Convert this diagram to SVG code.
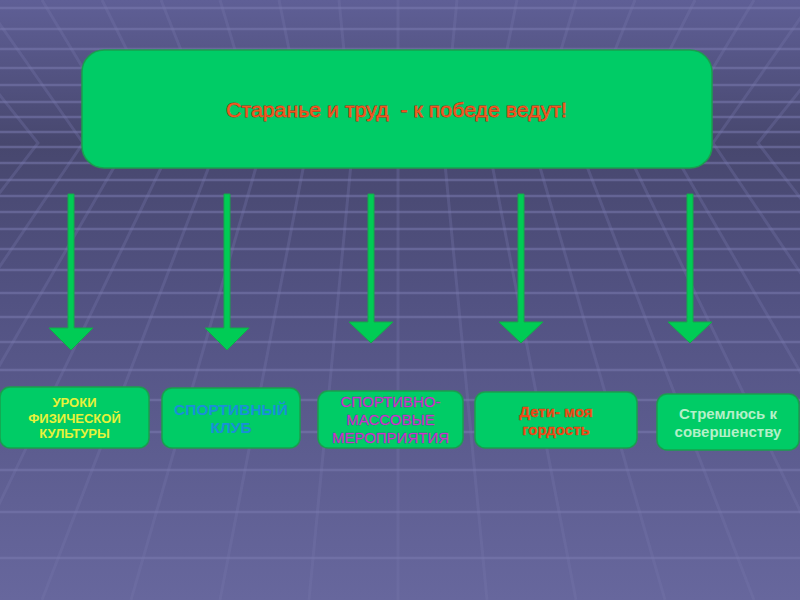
<svg xmlns="http://www.w3.org/2000/svg" width="800" height="600" viewBox="0 0 800 600">
<defs>
<linearGradient id="bg" x1="0" y1="0" x2="0" y2="600" gradientUnits="userSpaceOnUse">
<stop offset="0" stop-color="#5f5f96"/>
<stop offset="0.24" stop-color="#47476e"/>
<stop offset="0.5" stop-color="#525282"/>
<stop offset="1" stop-color="#67679d"/>
</linearGradient>
<style>
.vl{fill:none;stroke:#7676aa;stroke-width:3;stroke-opacity:0.32}
.hl{fill:none;stroke:#7a7aae;stroke-width:2.5;stroke-opacity:0.55}
.box{fill:#00cc66;stroke:#1a9e4e;stroke-width:1.5}
.arr{fill:#00cc55;stroke:#14a84a;stroke-width:1}
.t{font-family:"Liberation Sans",Arial,sans-serif;text-anchor:middle}
.b{font-weight:bold}
</style>
</defs>
<rect width="800" height="600" fill="url(#bg)"/>
<g id="grid">
<path class="vl" d="M-76,0 L38,143 L-314,600 M-17,0 L83,143 L-225,600 M42,0 L128,143 L-136,600 M102,0 L173,143 L-47,600 M161,0 L218,143 L42,600 M220,0 L263,143 L131,600 M279,0 L308,143 L220,600 M339,0 L353,143 L309,600 M398,0 L398,143 L398,600 M457,0 L443,143 L487,600 M517,0 L488,143 L576,600 M576,0 L533,143 L665,600 M635,0 L578,143 L754,600 M695,0 L623,143 L843,600 M754,0 L668,143 L932,600 M813,0 L713,143 L1021,600 M872,0 L758,143 L1110,600"/>
<path class="hl" d="M0,8 H800 M0,29 H800 M0,49 H800 M0,68 H800 M0,85 H800 M0,102 H800 M0,117 H800 M0,132 H800 M0,147 H800 M0,163 H800 M0,180 H800 M0,196 H800 M0,212 H800 M0,229 H800 M0,249 H800 M0,270 H800 M0,293 H800 M0,317 H800 M0,342 H800 M0,370 H800 M0,400 H800 M0,432 H800 M0,470 H800 M0,512 H800 M0,558 H800"/>
</g>
<g id="connectors">
<polygon class="arr" points="68,194 74,194 74,328 93,328 71,350 49,328 68,328"/>
<polygon class="arr" points="224,194 230,194 230,328 249,328 227,350 205,328 224,328"/>
<polygon class="arr" points="368,194 374,194 374,322 393,322 371,343 349,322 368,322"/>
<polygon class="arr" points="518,194 524,194 524,322 543,322 521,343 499,322 518,322"/>
<polygon class="arr" points="687,194 693,194 693,322 712,322 690,343 668,322 687,322"/>
</g>
<g id="top">
<rect class="box" x="82" y="50" width="630" height="118" rx="22"/>
<text class="t" xml:space="preserve" x="396.5" y="117" font-size="20" fill="#f25a1e" stroke="#b0281a" stroke-width="0.8" paint-order="stroke" textLength="341" lengthAdjust="spacingAndGlyphs">Старанье и труд  - к победе ведут!</text>
</g>
<g id="n1">
<rect class="box" x="0" y="387" width="149" height="61" rx="10"/>
<text class="t b" font-size="13" fill="#e8f23a"><tspan x="74.5" y="407">УРОКИ</tspan><tspan x="74.5" y="422.5">ФИЗИЧЕСКОЙ</tspan><tspan x="74.5" y="438">КУЛЬТУРЫ</tspan></text>
</g>
<g id="n2">
<rect class="box" x="162" y="388" width="138" height="60" rx="10"/>
<text class="t b" font-size="15.5" fill="#1a8fd8"><tspan x="231" y="415">СПОРТИВНЫЙ</tspan><tspan x="231" y="433">КЛУБ</tspan></text>
</g>
<g id="n3">
<rect class="box" x="318" y="391" width="145" height="57" rx="10"/>
<text class="t" font-size="15" fill="#cc33cc" stroke="#7a1f8a" stroke-width="0.4" paint-order="stroke"><tspan x="390.5" y="407">СПОРТИВНО-</tspan><tspan x="390.5" y="425">МАССОВЫЕ</tspan><tspan x="390.5" y="443">МЕРОПРИЯТИЯ</tspan></text>
</g>
<g id="n4">
<rect class="box" x="475" y="392" width="162" height="56" rx="10"/>
<text class="t b" font-size="15" fill="#f04a14" stroke="#a02a10" stroke-width="0.4" paint-order="stroke"><tspan x="556" y="417">Дети- моя</tspan><tspan x="556" y="435">гордость</tspan></text>
</g>
<g id="n5">
<rect class="box" x="657" y="394" width="142" height="56" rx="10"/>
<text class="t b" font-size="15" fill="#b4f0c8"><tspan x="728" y="419">Стремлюсь к</tspan><tspan x="728" y="437">совершенству</tspan></text>
</g>
</svg>
